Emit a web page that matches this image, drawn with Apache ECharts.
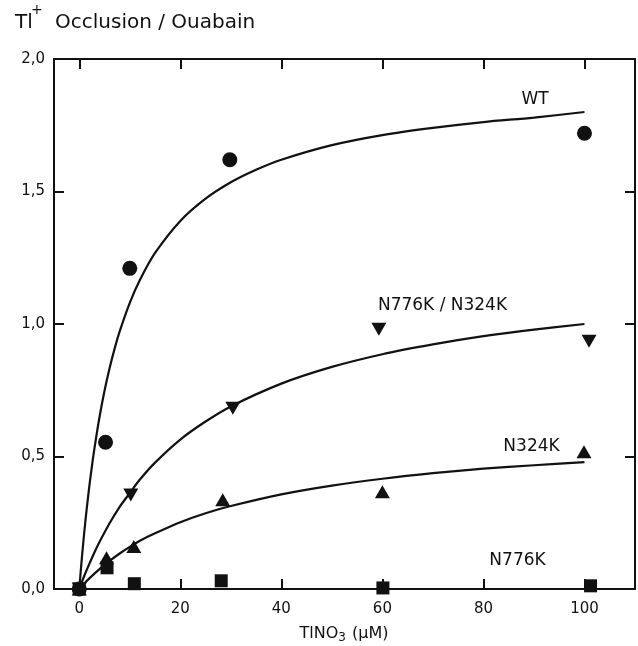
<!DOCTYPE html>
<html><head><meta charset="utf-8">
<script src="https://cdn.jsdelivr.net/npm/echarts@6/dist/echarts.min.js"></script>
<style>html,body{margin:0;padding:0;background:#fff}#c{width:638px;height:646px}</style>
</head><body><div id="c"></div>
<script>
// Tick values / labels
const xTicks = [0, 20, 40, 60, 80, 100];
const yTickLabels = ['0,0', '0,5', '1,0', '1,5', '2,0'];

// Measured points
const wtX = [0, 5.2, 10, 29.8, 100];
const wtY = [0, 0.554, 1.21, 1.62, 1.72];
const dblX = [0, 10.2, 30.4, 59.3, 100.9];
const dblY = [0, 0.355, 0.682, 0.98, 0.935];
const n324X = [0, 5.4, 10.8, 28.4, 60.0, 99.9];
const n324Y = [0, 0.118, 0.16, 0.337, 0.367, 0.518];
const n776X = [0, 5.5, 10.9, 28.1, 60.1, 101.2];
const n776Y = [0, 0.08, 0.02, 0.031, 0.004, 0.012];

// Fitted curves
const wtCurveX = [0, 0.5, 1, 1.5, 2, 2.5, 3, 4, 5, 6, 7, 8, 10, 12, 15, 20, 25, 30, 35, 40, 50, 60, 70, 80, 90, 100];
const wtCurveY = [0, 0.114, 0.216, 0.307, 0.389, 0.463, 0.530, 0.648, 0.748, 0.833, 0.907, 0.972, 1.080, 1.166, 1.268, 1.389, 1.473, 1.535, 1.582, 1.620, 1.675, 1.713, 1.740, 1.762, 1.779, 1.800];
const dblCurveX = [0, 1, 2, 3, 4, 6, 8, 10, 12, 15, 20, 25, 30, 40, 50, 60, 70, 80, 90, 100];
const dblCurveY = [0, 0.05, 0.095, 0.138, 0.177, 0.248, 0.31, 0.362, 0.413, 0.477, 0.564, 0.632, 0.689, 0.775, 0.838, 0.886, 0.923, 0.954, 0.979, 1.0];
const n324CurveX = [0, 1, 2, 4, 6, 8, 10, 12, 15, 20, 25, 30, 40, 50, 60, 70, 80, 90, 100];
const n324CurveY = [0, 0.021, 0.04, 0.075, 0.106, 0.134, 0.159, 0.182, 0.21, 0.252, 0.286, 0.313, 0.357, 0.39, 0.416, 0.437, 0.454, 0.467, 0.479];

const INK = '#111';
const FONT = 'DejaVu Sans';
const zip = (xs, ys) => xs.map((x, i) => [x, ys[i]]);

const chart = echarts.init(document.getElementById('c'), null, {renderer: 'canvas'});

const axisCommon = {
  axisLine: {show: true, onZero: false, lineStyle: {color: INK, width: 2}},
  axisTick: {show: true, inside: true, length: 10, lineStyle: {color: INK, width: 2}},
  splitLine: {show: false}
};

const curve = (xs, ys) => ({
  type: 'line', data: zip(xs, ys), smooth: 0.3,
  showSymbol: false, symbol: 'none', lineStyle: {color: INK, width: 2.2}, silent: true, z: 2
});
const marks = (xs, ys, symbol, size, rot) => ({
  type: 'scatter', data: zip(xs, ys), symbol: symbol, symbolSize: size, symbolRotate: rot || 0,
  itemStyle: {color: INK, opacity: 1}, silent: true, z: 3
});

chart.setOption({
  animation: false,
  backgroundColor: '#fff',
  grid: {left: 54, top: 59, width: 581, height: 530, containLabel: false},
  xAxis: [
    Object.assign({}, axisCommon, {
      type: 'value', min: -5, max: 110, position: 'bottom',
      axisTick: Object.assign({}, axisCommon.axisTick, {customValues: xTicks}),
      axisLabel: {customValues: xTicks, color: INK, fontFamily: FONT, fontSize: 15, margin: 13}
    }),
    Object.assign({}, axisCommon, {
      type: 'value', min: -5, max: 110, position: 'top',
      axisTick: Object.assign({}, axisCommon.axisTick, {customValues: xTicks}),
      axisLabel: {show: false}
    })
  ],
  yAxis: [
    Object.assign({}, axisCommon, {
      type: 'value', min: 0, max: 2, interval: 0.5, position: 'left',
      axisLabel: {color: INK, fontFamily: FONT, fontSize: 15, margin: 9,
        formatter: v => yTickLabels[Math.round(v / 0.5)]}
    }),
    Object.assign({}, axisCommon, {
      type: 'value', min: 0, max: 2, interval: 0.5, position: 'right',
      axisLabel: {show: false}
    })
  ],
  series: [
    curve(wtCurveX, wtCurveY),
    curve(dblCurveX, dblCurveY),
    curve(n324CurveX, n324CurveY),
    marks(n776X, n776Y, 'rect', 13),
    marks(n324X, n324Y, 'triangle', [15, 13]),
    marks(dblX, dblY, 'triangle', [15, 13], 180),
    marks(wtX, wtY, 'circle', 15)
  ],
  graphic: [
    {type: 'text', x: 15, y: 23, style: {text: 'Tl', fill: INK, font: '20px "DejaVu Sans"', textAlign: 'left', textVerticalAlign: 'middle'}},
    {type: 'text', x: 31, y: 10, style: {text: '+', fill: INK, font: '14px "DejaVu Sans"', textAlign: 'left', textVerticalAlign: 'middle'}},
    {type: 'text', x: 55, y: 23, style: {text: 'Occlusion / Ouabain', fill: INK, font: '20px "DejaVu Sans"', textAlign: 'left', textVerticalAlign: 'middle'}},
    {type: 'text', x: 344, y: 634, style: {
      text: '{m|TlNO}{s|3}{m| (µM)}', fill: INK, textAlign: 'center', textVerticalAlign: 'middle',
      rich: {
        m: {fontFamily: FONT, fontSize: 16, lineHeight: 18, fill: INK},
        s: {fontFamily: FONT, fontSize: 12, lineHeight: 12, padding: [8, 1, 0, 0], fill: INK}
      }
    }},
    {type: 'text', x: 535, y: 100, style: {text: 'WT', fill: INK, font: '17px "DejaVu Sans"', textAlign: 'center', textVerticalAlign: 'middle'}},
    {type: 'text', x: 442.5, y: 306, style: {text: 'N776K / N324K', fill: INK, font: '17px "DejaVu Sans"', textAlign: 'center', textVerticalAlign: 'middle'}},
    {type: 'text', x: 531.5, y: 446.5, style: {text: 'N324K', fill: INK, font: '17px "DejaVu Sans"', textAlign: 'center', textVerticalAlign: 'middle'}},
    {type: 'text', x: 517.5, y: 561, style: {text: 'N776K', fill: INK, font: '17px "DejaVu Sans"', textAlign: 'center', textVerticalAlign: 'middle'}}
  ]
});
</script>
</body></html>
